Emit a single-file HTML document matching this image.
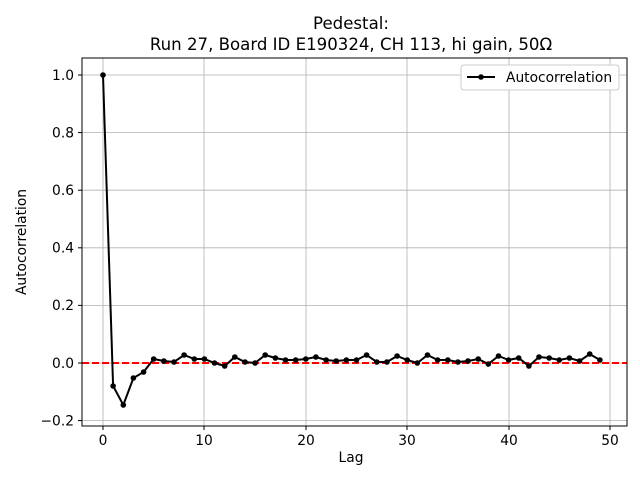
<!DOCTYPE html><html><head><style>body{margin:0;background:#fff}svg{display:block;font-family:"DejaVu Sans","Liberation Sans",sans-serif}</style></head><body>
<svg width="640" height="480" viewBox="0 0 640 480">
<rect width="640" height="480" fill="#fff"/>
<g stroke="#b0b0b0" stroke-width="0.8">
<line x1="103" y1="58" x2="103" y2="426"/><line x1="204" y1="58" x2="204" y2="426"/><line x1="306" y1="58" x2="306" y2="426"/><line x1="407" y1="58" x2="407" y2="426"/><line x1="509" y1="58" x2="509" y2="426"/><line x1="610" y1="58" x2="610" y2="426"/>
<line x1="82" y1="420.6" x2="627" y2="420.6"/><line x1="82" y1="363" x2="627" y2="363"/><line x1="82" y1="305.4" x2="627" y2="305.4"/><line x1="82" y1="247.8" x2="627" y2="247.8"/><line x1="82" y1="190.2" x2="627" y2="190.2"/><line x1="82" y1="132.6" x2="627" y2="132.6"/><line x1="82" y1="75" x2="627" y2="75"/>
</g>
<line x1="82" y1="363" x2="627" y2="363" stroke="#f00" stroke-width="2" stroke-dasharray="7,3"/>
<polyline fill="none" stroke="#000" stroke-width="2" points="103,75 113.1,386 123.3,405 133.4,378 143.6,372 153.7,359 163.8,361 174,362 184.1,355 194.3,359 204.4,359 214.5,363 224.7,366 234.8,357 245,362 255.1,363 265.2,355 275.4,358 285.5,360 295.7,360 305.8,359 315.9,357 326.1,360 336.2,361 346.4,360 356.5,360 366.6,355 376.8,362 386.9,362 397.1,356 407.2,360 417.3,363 427.5,355 437.6,360 447.8,360 457.9,362 468,361 478.2,359 488.3,364 498.5,356 508.6,360 518.7,358 528.9,366 539,357 549.2,358 559.3,360 569.4,358 579.6,361 589.7,354 599.9,360"/>
<g fill="#000">
<circle cx="103" cy="75" r="2.8"/><circle cx="113.1" cy="386" r="2.8"/><circle cx="123.3" cy="405" r="2.8"/><circle cx="133.4" cy="378" r="2.8"/><circle cx="143.6" cy="372" r="2.8"/><circle cx="153.7" cy="359" r="2.8"/><circle cx="163.8" cy="361" r="2.8"/><circle cx="174" cy="362" r="2.8"/><circle cx="184.1" cy="355" r="2.8"/><circle cx="194.3" cy="359" r="2.8"/><circle cx="204.4" cy="359" r="2.8"/><circle cx="214.5" cy="363" r="2.8"/><circle cx="224.7" cy="366" r="2.8"/><circle cx="234.8" cy="357" r="2.8"/><circle cx="245" cy="362" r="2.8"/><circle cx="255.1" cy="363" r="2.8"/><circle cx="265.2" cy="355" r="2.8"/><circle cx="275.4" cy="358" r="2.8"/><circle cx="285.5" cy="360" r="2.8"/><circle cx="295.7" cy="360" r="2.8"/><circle cx="305.8" cy="359" r="2.8"/><circle cx="315.9" cy="357" r="2.8"/><circle cx="326.1" cy="360" r="2.8"/><circle cx="336.2" cy="361" r="2.8"/><circle cx="346.4" cy="360" r="2.8"/><circle cx="356.5" cy="360" r="2.8"/><circle cx="366.6" cy="355" r="2.8"/><circle cx="376.8" cy="362" r="2.8"/><circle cx="386.9" cy="362" r="2.8"/><circle cx="397.1" cy="356" r="2.8"/><circle cx="407.2" cy="360" r="2.8"/><circle cx="417.3" cy="363" r="2.8"/><circle cx="427.5" cy="355" r="2.8"/><circle cx="437.6" cy="360" r="2.8"/><circle cx="447.8" cy="360" r="2.8"/><circle cx="457.9" cy="362" r="2.8"/><circle cx="468" cy="361" r="2.8"/><circle cx="478.2" cy="359" r="2.8"/><circle cx="488.3" cy="364" r="2.8"/><circle cx="498.5" cy="356" r="2.8"/><circle cx="508.6" cy="360" r="2.8"/><circle cx="518.7" cy="358" r="2.8"/><circle cx="528.9" cy="366" r="2.8"/><circle cx="539" cy="357" r="2.8"/><circle cx="549.2" cy="358" r="2.8"/><circle cx="559.3" cy="360" r="2.8"/><circle cx="569.4" cy="358" r="2.8"/><circle cx="579.6" cy="361" r="2.8"/><circle cx="589.7" cy="354" r="2.8"/><circle cx="599.9" cy="360" r="2.8"/>
</g>
<rect x="82" y="58" width="545" height="368" fill="none" stroke="#000" stroke-width="1"/>
<g stroke="#000"><line x1="103" y1="426" x2="103" y2="430"/><line x1="204" y1="426" x2="204" y2="430"/><line x1="306" y1="426" x2="306" y2="430"/><line x1="407" y1="426" x2="407" y2="430"/><line x1="509" y1="426" x2="509" y2="430"/><line x1="610" y1="426" x2="610" y2="430"/>
<line x1="78" y1="420.6" x2="82" y2="420.6"/><line x1="78" y1="363" x2="82" y2="363"/><line x1="78" y1="305.4" x2="82" y2="305.4"/><line x1="78" y1="247.8" x2="82" y2="247.8"/><line x1="78" y1="190.2" x2="82" y2="190.2"/><line x1="78" y1="132.6" x2="82" y2="132.6"/><line x1="78" y1="75" x2="82" y2="75"/></g>
<g font-size="13.8" text-anchor="middle" fill="#000"><text x="103" y="445">0</text><text x="204" y="445">10</text><text x="306" y="445">20</text><text x="407" y="445">30</text><text x="509" y="445">40</text><text x="610" y="445">50</text></g>
<g font-size="13.8" text-anchor="end" fill="#000"><text x="74" y="425.5">−0.2</text><text x="74" y="368">0.0</text><text x="74" y="310">0.2</text><text x="74" y="252.5">0.4</text><text x="74" y="195">0.6</text><text x="74" y="137.5">0.8</text><text x="74" y="80">1.0</text></g>
<text x="351" y="462" font-size="13.8" text-anchor="middle">Lag</text>
<text transform="translate(26,242) rotate(-90)" font-size="13.8" text-anchor="middle">Autocorrelation</text>
<text x="351" y="29" font-size="16.6" text-anchor="middle">Pedestal:</text>
<text x="351" y="50" font-size="16.6" text-anchor="middle">Run 27, Board ID E190324, CH 113, hi gain, 50Ω</text>
<rect x="461" y="65" width="158" height="25" rx="3" fill="#fff" stroke="#ccc"/>
<line x1="467" y1="77" x2="495" y2="77" stroke="#000" stroke-width="2"/><circle cx="481" cy="77" r="2.8"/>
<text x="506" y="82" font-size="13.8">Autocorrelation</text>
</svg></body></html>
